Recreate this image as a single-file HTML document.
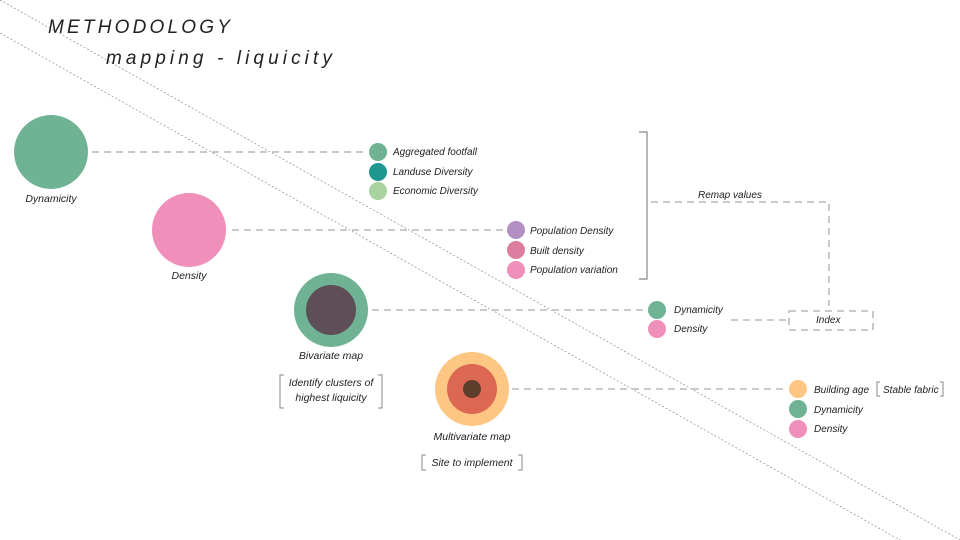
<!DOCTYPE html>
<html><head><style>
body{margin:0;background:#fff}
svg{display:block}
text{font-family:"Liberation Sans",sans-serif;font-style:italic;fill:#222}
</style></head><body>
<svg width="960" height="540" viewBox="0 0 960 540">
<g stroke="#999" stroke-width="0.8" stroke-dasharray="2,2" fill="none">
<line x1="0" y1="0" x2="960" y2="540"/>
<line x1="0" y1="33" x2="900" y2="540"/>
</g>
<text x="48" y="33" font-size="19" letter-spacing="3.2" fill="#111">METHODOLOGY</text>
<text x="106" y="64" font-size="19" letter-spacing="4.1" fill="#111">mapping - liquicity</text>
<g stroke="#aaa" stroke-width="1.3" stroke-dasharray="7,5" fill="none">
<line x1="92" y1="152" x2="366" y2="152"/>
<line x1="232" y1="230" x2="505" y2="230"/>
<line x1="372" y1="310" x2="646" y2="310"/>
<line x1="512" y1="389" x2="786" y2="389"/>
<line x1="731" y1="320" x2="786" y2="320"/>
<rect x="789" y="311" width="84" height="19"/>
<polyline points="651,202 829,202 829,306"/>
</g>
<polyline points="639,132 647,132 647,279 639,279" stroke="#888" stroke-width="1.2" fill="none"/>
<circle cx="51" cy="152" r="37" fill="#70b394"/>
<circle cx="189" cy="230" r="37" fill="#ef8fba"/>
<circle cx="331" cy="310" r="37" fill="#70b394"/><circle cx="331" cy="310" r="25" fill="#5d4e57"/>
<circle cx="472" cy="389" r="37" fill="#fdc683"/><circle cx="472" cy="389" r="25" fill="#dc6753"/><circle cx="472" cy="389" r="9" fill="#5d3e2b"/>
<g font-size="10.5">
<text x="51" y="202" text-anchor="middle">Dynamicity</text>
<text x="189" y="279" text-anchor="middle">Density</text>
<text x="331" y="359" text-anchor="middle">Bivariate map</text>
<text x="331" y="386" text-anchor="middle">Identify clusters of</text>
<text x="331" y="401" text-anchor="middle">highest liquicity</text>
<text x="472" y="440" text-anchor="middle">Multivariate map</text>
<text x="472" y="466" text-anchor="middle">Site to implement</text>
</g>
<g stroke="#888" fill="none" stroke-width="1">
<polyline points="284,375 280,375 280,408 284,408"/><polyline points="378,375 382,375 382,408 378,408"/>
<polyline points="426,455 422,455 422,470 426,470"/><polyline points="518,455 522,455 522,470 518,470"/>
<polyline points="880,382 877,382 877,396 880,396"/><polyline points="940,382 943,382 943,396 940,396"/>
</g>
<circle cx="378" cy="152" r="9" fill="#70b394"/>
<circle cx="378" cy="172" r="9" fill="#1e978f"/>
<circle cx="378" cy="191" r="9" fill="#a8d3a0"/>
<circle cx="516" cy="230" r="9" fill="#b48fc4"/>
<circle cx="516" cy="250" r="9" fill="#dc7c9f"/>
<circle cx="516" cy="270" r="9" fill="#ef8fba"/>
<circle cx="657" cy="310" r="9" fill="#70b394"/>
<circle cx="657" cy="329" r="9" fill="#ef8fba"/>
<circle cx="798" cy="389" r="9" fill="#fdc683"/>
<circle cx="798" cy="409" r="9" fill="#70b394"/>
<circle cx="798" cy="429" r="9" fill="#ef8fba"/>
<g font-size="10">
<text x="393" y="155">Aggregated footfall</text>
<text x="393" y="175">Landuse Diversity</text>
<text x="393" y="194">Economic Diversity</text>
<text x="530" y="234">Population Density</text>
<text x="530" y="254">Built density</text>
<text x="530" y="273">Population variation</text>
<text x="698" y="198">Remap values</text>
<text x="674" y="313">Dynamicity</text>
<text x="674" y="332">Density</text>
<text x="816" y="323">Index</text>
<text x="814" y="393">Building age</text>
<text x="883" y="393">Stable fabric</text>
<text x="814" y="413">Dynamicity</text>
<text x="814" y="432">Density</text>
</g>
</svg>
</body></html>
